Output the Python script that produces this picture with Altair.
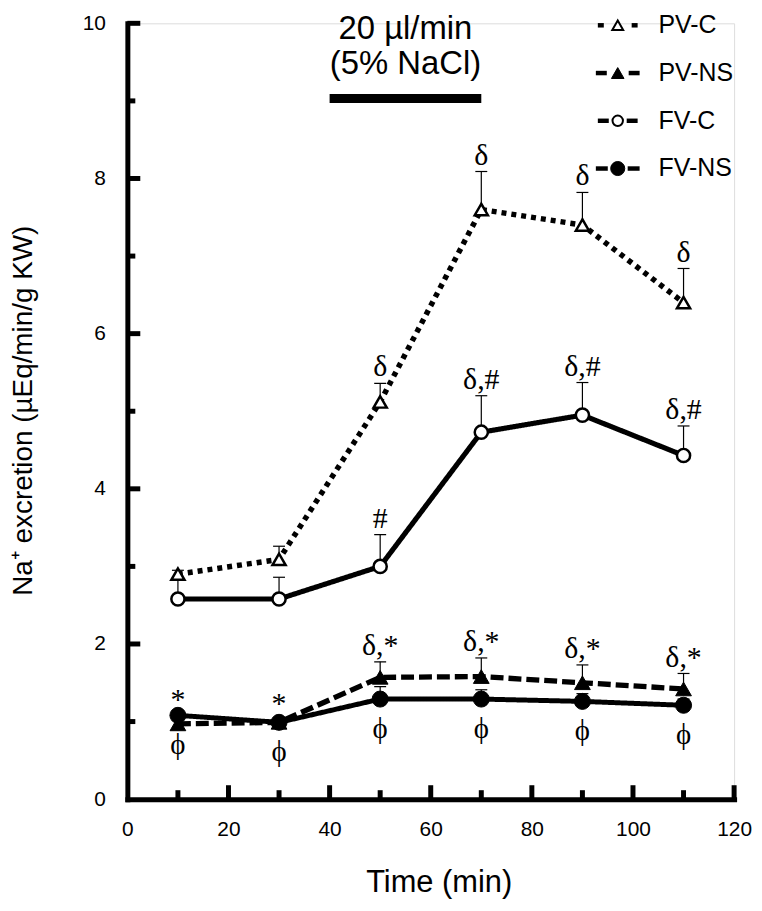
import altair as alt
import pandas as pd

# ---------------- data ----------------
times = [10, 30, 50, 70, 90, 110]
series_names = ["PV-C", "PV-NS", "FV-C", "FV-NS"]

pv_c = [2.90, 3.09, 5.12, 7.60, 7.40, 6.40]
pv_c_err = [0.05, 0.17, 0.24, 0.49, 0.42, 0.44]
pv_ns = [0.97, 0.99, 1.57, 1.58, 1.50, 1.42]
pv_ns_err = [0.10, 0.03, 0.20, 0.24, 0.23, 0.20]
fv_c = [2.58, 2.58, 3.00, 4.73, 4.95, 4.43]
fv_c_err = [0.25, 0.28, 0.41, 0.47, 0.42, 0.38]
fv_ns = [1.08, 0.99, 1.29, 1.29, 1.26, 1.21]
fv_ns_err = [0.05, 0.03, 0.16, 0.12, 0.10, 0.08]

pv_c_sig = ["", "", "δ", "δ", "δ", "δ"]
pv_ns_sig = ["*", "*", "δ,*", "δ,*", "δ,*", "δ,*"]
fv_c_sig = ["", "", "#", "δ,#", "δ,#", "δ,#"]
fv_ns_sig = ["ϕ", "ϕ", "ϕ", "ϕ", "ϕ", "ϕ"]

x_major_ticks = [20, 40, 60, 80, 100, 120]
x_minor_ticks = [10, 30, 50, 70, 90, 110]
x_labels = [0, 20, 40, 60, 80, 100, 120]
y_major_ticks = [2, 4, 6, 8, 10]
y_minor_ticks = [1, 3, 5, 7, 9]
y_labels = [0, 2, 4, 6, 8, 10]

infusion_start = [40]
infusion_end = [70]
infusion_level = [9.03]
infusion_text = ["20 µl/min", "(5% NaCl)"]
infusion_text_level = [9.92, 9.47]
infusion_text_time = [55, 55]

# ---------------- tables ----------------
values = {"PV-C": pv_c, "PV-NS": pv_ns, "FV-C": fv_c, "FV-NS": fv_ns}
errors = {"PV-C": pv_c_err, "PV-NS": pv_ns_err, "FV-C": fv_c_err, "FV-NS": fv_ns_err}
sigs = {"PV-C": pv_c_sig, "PV-NS": pv_ns_sig, "FV-C": fv_c_sig, "FV-NS": fv_ns_sig}
rows = []
for s in series_names:
    for t, v, e, g in zip(times, values[s], errors[s], sigs[s]):
        rows.append({"series": s, "t": t, "v": v, "err": e, "top": v + e, "sig": g})
df = pd.DataFrame(rows)

bar_df = pd.DataFrame({"t": infusion_start, "t2": infusion_end, "v": infusion_level})
txt_df = pd.DataFrame({"t": infusion_text_time, "v": infusion_text_level, "label": infusion_text})

W, H = 610, 780
SANS = "Liberation Sans"
SERIF = "Liberation Serif"

xs = alt.Scale(domain=[0, 120], nice=False, zero=False)
ys = alt.Scale(domain=[0, 10], nice=False, zero=False)

main_x_axis = alt.Axis(
    orient="bottom", values=x_labels, ticks=False, grid=False,
    domainWidth=5, domainColor="black", domainCap="square",
    labelFont=SANS, labelFontSize=21, labelColor="black", labelPadding=20,
    labelFlush=False, format="d",
    title="Time (min)", titleFont=SANS, titleFontSize=31, titleFontWeight="normal",
    titleColor="black", titleX=313, titleY=84, titleBaseline="middle",
)
main_y_axis = alt.Axis(
    orient="left", values=y_labels, ticks=False, grid=False,
    domainWidth=5, domainColor="black", domainCap="square",
    labelFont=SANS, labelFontSize=21, labelColor="black", labelPadding=22,
    format="d",
    title="Na⁺ excretion (µEq/min/g KW)", titleFont=SANS, titleFontSize=28,
    titleFontWeight="normal", titleColor="black", titleX=-104, titleY=H / 2 - 1,
    titleAngle=-90, titleBaseline="middle", titleAlign="center",
)

def X(field="t"):
    return alt.X(f"{field}:Q", scale=xs, axis=None, title=None)

def Y(field="v"):
    return alt.Y(f"{field}:Q", scale=ys, axis=None, title=None)

base = alt.Chart(df)

lines = base.mark_line(color="black").encode(
    x=alt.X("t:Q", scale=xs, axis=main_x_axis),
    y=alt.Y("v:Q", scale=ys, axis=main_y_axis),
    strokeDash=alt.StrokeDash(
        "series:N",
        scale=alt.Scale(domain=series_names, range=[[5, 5], [13, 5], [1, 0], [1, 0]]),
        legend=None,
    ),
    strokeWidth=alt.StrokeWidth(
        "series:N",
        scale=alt.Scale(domain=series_names, range=[5.5, 5, 4.5, 4.5]),
        legend=None,
    ),
)

# inward axis ticks, placed through the scales
xt_major = alt.Chart(pd.DataFrame({"t": x_major_ticks})).mark_rule(color="black", strokeWidth=5).encode(
    x=X("t"), y=alt.value(H), y2=alt.value(H - 14)
)
xt_minor = alt.Chart(pd.DataFrame({"t": x_minor_ticks})).mark_rule(color="black", strokeWidth=5).encode(
    x=X("t"), y=alt.value(H), y2=alt.value(H - 9)
)
yt_major = alt.Chart(pd.DataFrame({"v": y_major_ticks})).mark_rule(color="black", strokeWidth=5).encode(
    y=Y("v"), x=alt.value(0), x2=alt.value(13)
)
yt_minor = alt.Chart(pd.DataFrame({"v": y_minor_ticks})).mark_rule(color="black", strokeWidth=5).encode(
    y=Y("v"), x=alt.value(0), x2=alt.value(8)
)

err_rules = base.mark_rule(color="black", strokeWidth=1.2).encode(
    x=X(), y=Y(), y2="top:Q",
)
caps = base.mark_tick(orient="horizontal", size=12, thickness=1.2, color="black", opacity=1).encode(
    x=X(), y=Y("top")
)

marker_style = {
    "PV-C": dict(shape="triangle-up", fill="white", size=175, strokeWidth=2.5),
    "PV-NS": dict(shape="triangle-up", fill="black", size=250, strokeWidth=1),
    "FV-C": dict(shape="circle", fill="white", size=175, strokeWidth=2.5),
    "FV-NS": dict(shape="circle", fill="black", size=260, strokeWidth=1),
}
point_layers = []
for s in series_names:
    st = marker_style[s]
    point_layers.append(
        base.transform_filter(alt.datum.series == s)
        .mark_point(filled=True, stroke="black", opacity=1, **st)
        .encode(x=X(), y=Y())
    )

sig_above = base.transform_filter(
    (alt.datum.sig != "") & (alt.datum.series != "FV-NS")
).mark_text(font=SERIF, fontSize=30, baseline="alphabetic", dy=-7, color="black").encode(
    x=X(), y=Y("top"), text="sig:N"
)
sig_below = base.transform_filter(alt.datum.series == "FV-NS").mark_text(
    font=SERIF, fontSize=29, baseline="middle", dy=30, color="black"
).encode(x=X(), y=Y(), text="sig:N")

bar = alt.Chart(bar_df).mark_rule(color="black", strokeWidth=9).encode(
    x=X("t"), x2="t2:Q", y=Y("v")
)
bar_text = alt.Chart(txt_df).mark_text(
    font=SANS, fontSize=33, baseline="middle", align="center", color="black"
).encode(x=X("t"), y=Y("v"), text="label:N")

# ---------------- legend (top right, inside the plot) ----------------
LEG_CX = 493          # symbol centre, px from plot left
LEG_LABEL_X = 534     # label start, px from plot left
leg_y = alt.Y("series:N", scale=alt.Scale(type="point", domain=series_names, range=[2, 146], padding=0),
              axis=None, title=None)
dash_geom = {  # (outer, inner) half-extent of the dash pair, px
    "PV-C": (20, 14), "PV-NS": (22, 11), "FV-C": (20, 9), "FV-NS": (22, 10),
}
leg_rows = []
for s in series_names:
    o, i = dash_geom[s]
    leg_rows.append({"series": s, "xl1": LEG_CX - o, "xl2": LEG_CX - i,
                     "xr1": LEG_CX + i, "xr2": LEG_CX + o})
leg_df = pd.DataFrame(leg_rows)
leg_base = alt.Chart(leg_df)
leg_dash_l = leg_base.mark_rule(color="black", strokeWidth=4.5).encode(
    x=alt.X("xl1:Q", scale=None, axis=None), x2="xl2:Q", y=leg_y
)
leg_dash_r = leg_base.mark_rule(color="black", strokeWidth=4.5).encode(
    x=alt.X("xr1:Q", scale=None, axis=None), x2="xr2:Q", y=leg_y
)
leg_marker_style = {
    "PV-C": dict(shape="triangle-up", fill="white", size=120, strokeWidth=2),
    "PV-NS": dict(shape="triangle-up", fill="black", size=160, strokeWidth=1),
    "FV-C": dict(shape="circle", fill="white", size=110, strokeWidth=2),
    "FV-NS": dict(shape="circle", fill="black", size=200, strokeWidth=1),
}
leg_markers = []
for s in series_names:
    leg_markers.append(
        leg_base.transform_filter(alt.datum.series == s)
        .mark_point(filled=True, stroke="black", opacity=1, **leg_marker_style[s])
        .encode(x=alt.value(LEG_CX), y=leg_y)
    )
leg_labels = leg_base.mark_text(
    font=SANS, fontSize=25, align="left", baseline="middle", color="black"
).encode(x=alt.value(LEG_LABEL_X), y=leg_y, text="series:N")

chart = (
    alt.layer(
        lines, xt_major, xt_minor, yt_major, yt_minor, err_rules, caps, *point_layers,
        sig_above, sig_below, bar, bar_text,
        leg_dash_l, leg_dash_r, *leg_markers, leg_labels,
    )
    .resolve_scale(y="independent")
    .resolve_axis(x="independent", y="independent")
    .properties(
        width=W, height=H,
        autosize=alt.AutoSizeParams(type="none"),
        padding={"left": 120, "top": 13, "right": 20, "bottom": 100},
    )
    .configure_view(stroke=None)
    .configure(background="white")
)

chart.save("out.html", embed_options={"renderer": "svg", "actions": False})
